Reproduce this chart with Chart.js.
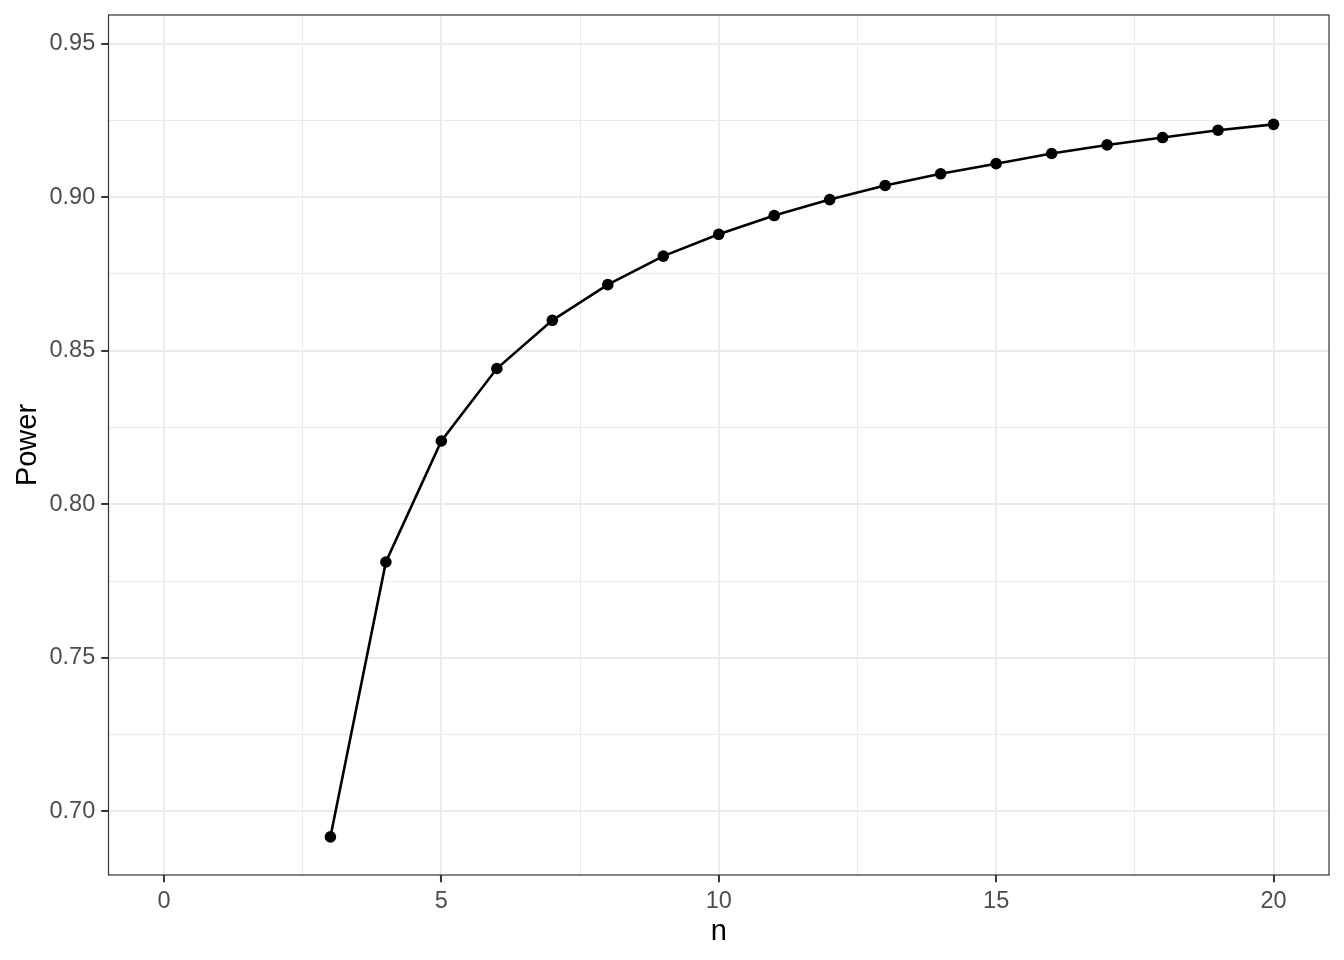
<!DOCTYPE html>
<html>
<head>
<meta charset="utf-8">
<script src="https://cdn.jsdelivr.net/npm/chart.js@4/dist/chart.umd.min.js"></script>
<style>
  html, body { margin: 0; padding: 0; background: #fff; }
  #wrap { width: 1344px; height: 960px; }
</style>
</head>
<body>
<div id="wrap"><canvas id="powerChart" width="1344" height="960"></canvas></div>
<script>
// sample sizes and power
const nValues = [3, 4, 5, 6, 7, 8, 9, 10, 11, 12, 13, 14, 15, 16, 17, 18, 19, 20];
const powerValues = [0.6917, 0.7812, 0.8206, 0.8442, 0.8599, 0.8715, 0.8808, 0.8879, 0.8940,
  0.8992, 0.9038, 0.9076, 0.9109, 0.9142, 0.9170, 0.9194, 0.9218, 0.9237];

const xMajorTicks = [0, 5, 10, 15, 20];
const xMinorTicks = [2.5, 7.5, 12.5, 17.5];
const yMajorTicks = [0.70, 0.75, 0.80, 0.85, 0.90, 0.95];
const yMinorTicks = [0.725, 0.775, 0.825, 0.875, 0.925];

const gridColor = '#EBEBEB';
const axisColor = '#333333';
const labelColor = '#4D4D4D';
const fontFamily = '"Liberation Sans", Arial, Helvetica, sans-serif';

function isMajor(list, v) {
  return list.some(m => Math.abs(m - v) < 1e-9);
}

function setTicks(list) {
  return scale => {
    scale.ticks = [...list].sort((a, b) => a - b).map(v => ({ value: v }));
  };
}

// ggplot-style full panel border
const panelBorder = {
  id: 'panelBorder',
  afterDraw(chart) {
    const { ctx, chartArea } = chart;
    ctx.save();
    ctx.strokeStyle = axisColor;
    ctx.lineWidth = 1.2;
    ctx.strokeRect(chartArea.left, chartArea.top,
      chartArea.right - chartArea.left, chartArea.bottom - chartArea.top);
    ctx.restore();
  }
};

const ctx = document.getElementById('powerChart').getContext('2d');

new Chart(ctx, {
  type: 'line',
  data: {
    datasets: [{
      data: nValues.map((n, i) => ({ x: n, y: powerValues[i] })),
      borderColor: '#000000',
      borderWidth: 2.6,
      backgroundColor: '#000000',
      pointBackgroundColor: '#000000',
      pointBorderWidth: 0,
      pointRadius: 5.8,
      tension: 0,
      fill: false
    }]
  },
  plugins: [panelBorder],
  options: {
    responsive: false,
    animation: false,
    devicePixelRatio: 1,
    layout: { padding: { top: 15, right: 15, left: 0, bottom: 0 } },
    plugins: {
      legend: { display: false },
      tooltip: { enabled: false }
    },
    scales: {
      x: {
        type: 'linear',
        min: -1,
        max: 21,
        afterBuildTicks: setTicks([...xMajorTicks, ...xMinorTicks]),
        afterFit: scale => {
          scale.height = 85;
          scale.paddingLeft = 0;
          scale.paddingRight = 0;
        },
        border: { display: false },
        grid: {
          color: c => gridColor,
          lineWidth: c => isMajor(xMajorTicks, c.tick.value) ? 1.9 : 1,
          tickLength: 7.3,
          tickColor: c => isMajor(xMajorTicks, c.tick.value) ? axisColor : 'rgba(0,0,0,0)',
          tickWidth: 2
        },
        ticks: {
          autoSkip: false,
          maxRotation: 0,
          padding: 5,
          color: labelColor,
          font: { family: fontFamily, size: 23.5 },
          callback: v => isMajor(xMajorTicks, v) ? String(v) : ''
        },
        title: {
          display: true,
          text: 'n',
          color: '#000000',
          font: { family: fontFamily, size: 29, lineHeight: 1 },
          padding: { top: 0, bottom: 14 }
        }
      },
      y: {
        type: 'linear',
        min: 0.6793,
        max: 0.9593,
        afterBuildTicks: setTicks([...yMajorTicks, ...yMinorTicks]),
        afterFit: scale => {
          scale.width = 108.5;
          scale.paddingTop = 0;
          scale.paddingBottom = 0;
        },
        border: { display: false },
        grid: {
          color: c => gridColor,
          lineWidth: c => isMajor(yMajorTicks, c.tick.value) ? 1.9 : 1,
          tickLength: 7.3,
          tickColor: c => isMajor(yMajorTicks, c.tick.value) ? axisColor : 'rgba(0,0,0,0)',
          tickWidth: 2
        },
        ticks: {
          autoSkip: false,
          padding: 6,
          color: labelColor,
          font: { family: fontFamily, size: 23.5 },
          callback: v => isMajor(yMajorTicks, v) ? v.toFixed(2) : ''
        },
        title: {
          display: true,
          text: 'Power',
          color: '#000000',
          font: { family: fontFamily, size: 29, lineHeight: 1 },
          padding: { top: 13, bottom: 0 }
        }
      }
    }
  }
});
</script>
</body>
</html>
